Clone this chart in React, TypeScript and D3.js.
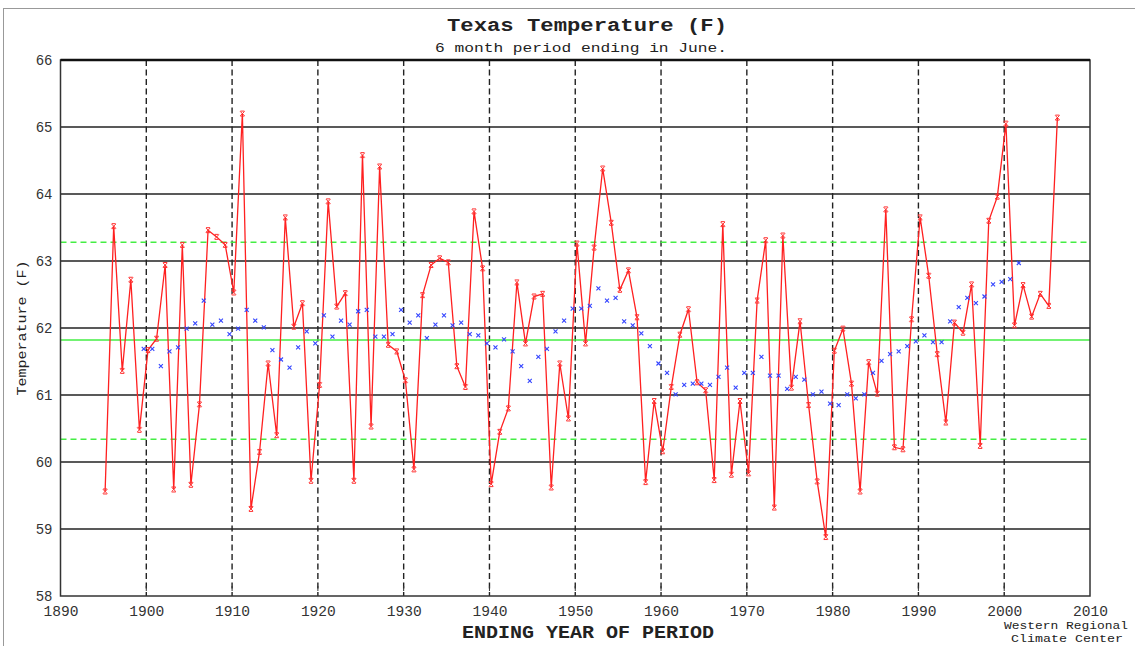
import { useEffect, useRef } from 'react'
import * as d3 from 'd3'

// yearly values, 1895..2006 (6 month period ending in June)
const startYear = 1895
const tempValues = [
  59.56, 63.52, 61.36, 62.72, 60.48, 61.67, 61.84, 62.94, 59.59, 63.24, 59.66, 60.86, 63.46, 63.36, 63.24, 62.53,
  65.2, 59.3, 60.15, 61.47, 60.4, 63.65, 62.02, 62.37, 59.72, 61.15, 63.89, 62.32, 62.52, 59.72, 64.58, 60.53, 64.41, 61.75, 61.65, 61.22,
  59.89, 62.49, 62.94, 63.04, 62.98, 61.43, 61.12, 63.74, 62.89, 59.67, 60.45, 60.8, 62.68, 61.77, 62.47, 62.51, 59.62, 61.47, 60.65, 63.26,
  61.77, 63.2, 64.38, 63.57, 62.57, 62.86, 62.16, 59.7, 60.91, 60.16, 61.12, 61.9, 62.28, 61.19, 61.07, 59.73, 63.55, 59.81, 60.91, 59.83,
  62.41, 63.31, 59.32, 63.38, 61.11, 62.1, 60.85, 59.71, 58.88, 61.66, 61.99, 61.17, 59.56, 61.49, 61.02, 63.77, 60.22, 60.19, 62.13, 63.65,
  62.78, 61.61, 60.59, 62.08, 61.93, 62.65, 60.24, 63.6, 63.96, 65.05, 62.04, 62.64, 62.17, 62.51, 62.33, 65.14,
]

// 10 year running mean, centred on 1899.5 .. 2001.5
const avgStart = 1899.5
const avgValues = [
  61.69, 61.69, 61.43, 61.65, 61.71, 61.99, 62.07, 62.41, 62.05, 62.11, 61.91, 61.99,
  62.27, 62.11, 62.01, 61.67, 61.53, 61.41, 61.71, 61.95, 61.77, 62.19, 61.87, 62.11, 62.05, 62.25, 62.27, 61.87, 61.87, 61.91, 62.27, 62.08,
  62.19, 61.85, 62.05, 62.19, 62.04, 62.08, 61.91, 61.89, 61.77, 61.71, 61.83, 61.65, 61.43, 61.21, 61.57, 61.69, 61.95, 62.11, 62.29, 62.29,
  62.33, 62.59, 62.41, 62.45, 62.1, 62.04, 61.92, 61.73, 61.47, 61.33, 61.01, 61.15, 61.17, 61.17, 61.15, 61.27, 61.41, 61.11, 61.33, 61.33,
  61.57, 61.29, 61.29, 61.09, 61.27, 61.23, 61.01, 61.05, 60.87, 60.85, 61.01, 60.95, 61.01, 61.33, 61.51, 61.61, 61.65, 61.73, 61.8, 61.89,
  61.79, 61.79, 62.1, 62.31, 62.45, 62.37, 62.47, 62.65, 62.69, 62.73, 62.97,
]

const meanValue = 61.82
const sdBands = [63.28, 60.34]
const yTicks = [58, 59, 60, 61, 62, 63, 64, 65, 66]
const xTicks = [1890, 1900, 1910, 1920, 1930, 1940, 1950, 1960, 1970, 1980, 1990, 2000, 2010]

const mono = '"Liberation Mono", "DejaVu Sans Mono", monospace'

export default function App() {
  const ref = useRef<SVGSVGElement | null>(null)

  useEffect(() => {
    if (!ref.current) return
    const width = 1135
    const height = 646
    const svg = d3.select(ref.current)
    svg.selectAll('*').remove()

    const x = d3.scaleLinear().domain([1890, 2010]).range([60.5, 1090])
    const y = d3.scaleLinear().domain([58, 66]).range([596, 60])
    const x0 = x.range()[0]
    const x1 = x.range()[1]

    svg.append('rect').attr('width', width).attr('height', height).attr('fill', '#fff')
    // page frame
    svg.append('line').attr('x1', 3).attr('x2', width).attr('y1', 8.5).attr('y2', 8.5)
      .attr('stroke', '#999').attr('stroke-width', 1)
    svg.append('line').attr('x1', 3.5).attr('x2', 3.5).attr('y1', 8).attr('y2', height)
      .attr('stroke', '#999').attr('stroke-width', 1)

    // horizontal grid
    svg.append('g').selectAll('line')
      .data(yTicks.slice(1, -1))
      .join('line')
      .attr('x1', x0).attr('x2', x1)
      .attr('y1', (d) => y(d)).attr('y2', (d) => y(d))
      .attr('stroke', '#222').attr('stroke-width', 1.4)

    // vertical dashed decade lines
    svg.append('g').selectAll('line')
      .data(xTicks.slice(1, -1))
      .join('line')
      .attr('x1', (d) => x(d)).attr('x2', (d) => x(d))
      .attr('y1', y(66)).attr('y2', y(58))
      .attr('stroke', '#222').attr('stroke-width', 1.4)
      .attr('stroke-dasharray', '6,3.5')

    // mean and +-1 sd
    svg.append('line').attr('x1', x0).attr('x2', x1)
      .attr('y1', y(meanValue)).attr('y2', y(meanValue))
      .attr('stroke', '#44ee44').attr('stroke-width', 1.5)
    svg.append('g').selectAll('line')
      .data(sdBands)
      .join('line')
      .attr('x1', x0).attr('x2', x1)
      .attr('y1', (d) => y(d)).attr('y2', (d) => y(d))
      .attr('stroke', '#44ee44').attr('stroke-width', 1.5)
      .attr('stroke-dasharray', '6,4')

    // frame
    svg.append('rect').attr('x', x0).attr('y', y(66)).attr('width', x1 - x0).attr('height', y(58) - y(66))
      .attr('fill', 'none').attr('stroke', '#333').attr('stroke-width', 1.5)
    svg.append('line').attr('x1', x0).attr('x2', x1).attr('y1', y(66)).attr('y2', y(66))
      .attr('stroke', '#111').attr('stroke-width', 2.5)

    // inward ticks at the bottom
    const inner = xTicks.slice(1, -1)
    svg.append('g').selectAll('line').data(inner).join('line')
      .attr('x1', (d) => x(d)).attr('x2', (d) => x(d))
      .attr('y1', y(58) - 10).attr('y2', y(58) - 5)
      .attr('stroke', '#333').attr('stroke-width', 1)

    // red series
    const pts = tempValues.map((v, i) => ({ year: startYear + i, v }))
    const line = d3.line<{ year: number; v: number }>()
      .x((d) => x(d.year + 0.2))
      .y((d) => y(d.v))
    svg.append('path').datum(pts).attr('d', line)
      .attr('fill', 'none').attr('stroke', '#ff2020').attr('stroke-width', 1.3)
    const cross = 'M-2.2,-2.2L2.2,2.2M-2.2,2.2L2.2,-2.2M-2,-2.5H2M-2,2.5H2'
    svg.append('g').selectAll('path').data(pts).join('path')
      .attr('transform', (d) => `translate(${x(d.year + 0.2)},${y(d.v)})`)
      .attr('d', cross).attr('fill', 'none').attr('stroke', '#ff3030').attr('stroke-width', 1)

    // blue running mean markers
    const avg = avgValues.map((v, i) => ({ year: avgStart + i, v }))
    svg.append('g').selectAll('path').data(avg).join('path')
      .attr('transform', (d) => `translate(${x(d.year + 0.2)},${y(d.v)})`)
      .attr('d', 'M-2,-2L2,2M-2,2L2,-2').attr('fill', 'none')
      .attr('stroke', '#3344ff').attr('stroke-width', 1.1)

    // axes labels via d3 axes
    const yAxis = svg.append('g').attr('transform', `translate(${x0},0)`)
      .call(d3.axisLeft(y).tickValues(yTicks).tickSize(0).tickPadding(8).tickFormat(d3.format('d')))
    yAxis.select('.domain').remove()
    yAxis.selectAll('text').style('font-family', mono).style('font-size', '14px').style('fill', '#333')

    const xAxis = svg.append('g').attr('transform', `translate(0,${y(58)})`)
      .call(d3.axisBottom(x).tickValues(xTicks).tickSize(0).tickPadding(10).tickFormat(d3.format('d')))
    xAxis.select('.domain').remove()
    xAxis.selectAll('text').style('font-family', mono).style('font-size', '14px').style('fill', '#333')
      .attr('textLength', 35).attr('lengthAdjust', 'spacingAndGlyphs')

    const txt = (s: string, tx: number, ty: number, size: number, len: number, bold = false) =>
      svg.append('text').attr('x', tx).attr('y', ty).attr('text-anchor', 'middle')
        .attr('textLength', len).attr('lengthAdjust', 'spacingAndGlyphs')
        .style('font-family', mono).style('font-size', `${size}px`)
        .style('font-weight', bold ? 'bold' : 'normal').style('fill', '#222').text(s)

    txt('Texas  Temperature (F)', 587, 31, 19, 280, true)
    txt('6 month period ending in June.', 581, 52, 13, 292)
    txt('ENDING YEAR OF PERIOD', 588, 638, 19, 252, true)
    txt('Western Regional', 1066, 629, 10.5, 124)
    txt('Climate Center', 1067, 642, 10.5, 112)

    svg.append('text').attr('transform', 'translate(26,328) rotate(-90)')
      .attr('text-anchor', 'middle').attr('textLength', 135).attr('lengthAdjust', 'spacingAndGlyphs')
      .style('font-family', mono).style('font-size', '13px').style('fill', '#222')
      .text('Temperature (F)')
  }, [])

  return (
    <div style={{ position: 'fixed', left: 0, top: 0 }}>
      <svg ref={ref} width={1135} height={646} style={{ display: 'block' }} />
    </div>
  )
}
